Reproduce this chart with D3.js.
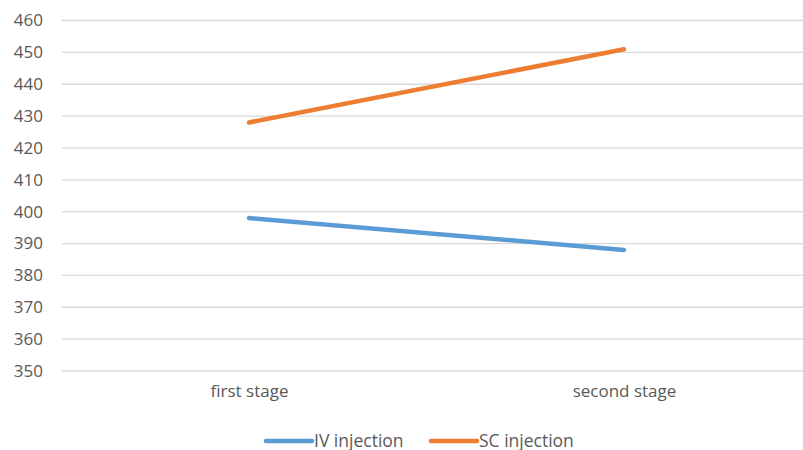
<!DOCTYPE html>
<html>
<head>
<meta charset="utf-8">
<script src="https://cdn.jsdelivr.net/npm/d3@7"></script>
<style>
  body { margin: 0; background: #fff; }
  svg { display: block; }
  text { font-family: 'Open Sans', sans-serif; fill: #595959; }
</style>
</head>
<body>
<script>
var width = 803;
var height = 450;

// data
var categories = ['first stage', 'second stage'];
var ivInjection = [398, 388];
var scInjection = [428, 451];
var yTicks = [350, 360, 370, 380, 390, 400, 410, 420, 430, 440, 450, 460];

var series = [
  { name: 'IV injection', values: ivInjection, color: '#5B9BD5' },
  { name: 'SC injection', values: scInjection, color: '#ED7D31' }
];

var margin = { top: 20.5, left: 61.5, bottom: 79 };
var plotRight = 811.5;

var svg = d3.select('body')
  .append('svg')
  .attr('width', width)
  .attr('height', height);

var xScale = d3.scalePoint()
  .domain(categories)
  .range([margin.left, plotRight])
  .padding(0.5);

var yScale = d3.scaleLinear()
  .domain([350, 460])
  .range([height - margin.bottom, margin.top]);

// gridlines
svg.append('g')
  .selectAll('line')
  .data(yTicks)
  .enter()
  .append('line')
  .attr('x1', margin.left)
  .attr('x2', plotRight)
  .attr('y1', function(d) { return yScale(d); })
  .attr('y2', function(d) { return yScale(d); })
  .attr('stroke', '#D9D9D9')
  .attr('stroke-width', 1.3);

// y axis labels
var yAxis = d3.axisLeft(yScale)
  .tickValues(yTicks)
  .tickSize(0)
  .tickPadding(0);

var yG = svg.append('g')
  .attr('transform', 'translate(43,0)')
  .call(yAxis);
yG.select('.domain').remove();
yG.selectAll('text')
  .attr('font-size', '17px')
  .attr('font-family', "'Open Sans', sans-serif")
  .attr('fill', '#595959');

// x axis labels
var xAxis = d3.axisBottom(xScale)
  .tickSize(0)
  .tickPadding(0);

var xG = svg.append('g')
  .attr('transform', 'translate(0,385)')
  .call(xAxis);
xG.select('.domain').remove();
xG.selectAll('text')
  .attr('font-size', '17px')
  .attr('font-family', "'Open Sans', sans-serif")
  .attr('fill', '#595959');

// lines
var line = d3.line()
  .x(function(d, i) { return xScale(categories[i]); })
  .y(function(d) { return yScale(d); });

svg.selectAll('path.series')
  .data(series)
  .enter()
  .append('path')
  .attr('class', 'series')
  .attr('d', function(d) { return line(d.values); })
  .attr('fill', 'none')
  .attr('stroke', function(d) { return d.color; })
  .attr('stroke-width', 4.5)
  .attr('stroke-linecap', 'round');

// legend
var legendX = [266, 431];
var legend = svg.selectAll('g.legend')
  .data(series)
  .enter()
  .append('g')
  .attr('class', 'legend')
  .attr('transform', function(d, i) { return 'translate(' + legendX[i] + ',441)'; });

legend.append('line')
  .attr('x1', 0)
  .attr('x2', 46)
  .attr('stroke', function(d) { return d.color; })
  .attr('stroke-width', 4.5)
  .attr('stroke-linecap', 'round');

legend.append('text')
  .attr('x', 48)
  .attr('y', 6)
  .attr('font-size', '17.5px')
  .text(function(d) { return d.name; });
</script>
</body>
</html>
